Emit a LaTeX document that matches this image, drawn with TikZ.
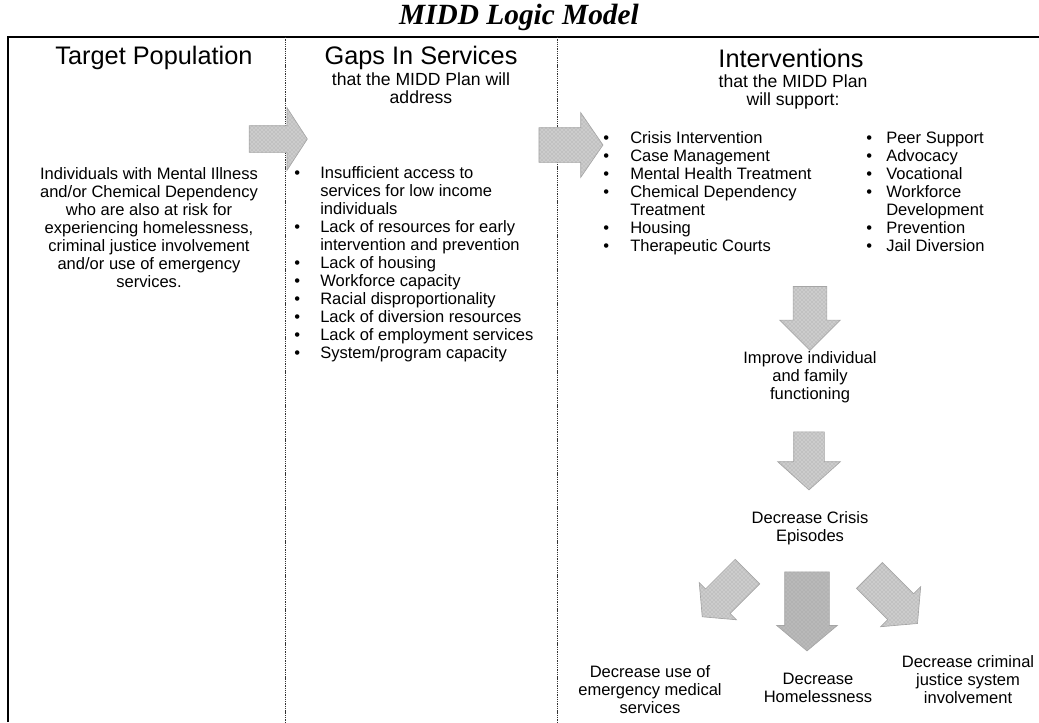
\documentclass[tikz,border=0pt]{standalone}
\usepackage{fontspec}
\setmainfont{Liberation Sans}
\newfontfamily\titlefont{Liberation Serif}
\usetikzlibrary{shapes.arrows,patterns}
\begin{document}
\begin{tikzpicture}[x=0.75pt,y=-0.75pt]
\newcommand{\bodyfont}{\fontsize{12.4}{13.5}\selectfont}
\newcommand{\headfont}{\fontsize{19}{20}\selectfont}
\newcommand{\subfont}{\fontsize{13.2}{13.5}\selectfont}
\newcommand{\arrowfill}{gray!40}
\newcommand{\arrowline}{gray!70}

\tikzset{every node/.style={inner sep=0pt},
  blockarrow/.style={single arrow, fill=\arrowfill, draw=\arrowline, line width=0.5pt,
    postaction={pattern=crosshatch dots, pattern color=gray!75}},
  divider/.style={line width=0.7pt, dash pattern=on 1pt off 0.7pt, black!80},
  listtext/.style={font=\bodyfont, anchor=north west},
  centertext/.style={font=\bodyfont, align=center, anchor=north}}
\useasboundingbox (0,0) rectangle (1039,722);

\node (title) at (519,17) {\titlefont\bfseries\itshape\fontsize{22}{26}\selectfont MIDD Logic Model};
\draw[line width=1.4pt] (8,722) -- (8,37) -- (1039,37);
\draw[divider] (285,37) -- (285,722);
\draw[divider] (557,37) -- (557,722);

% column heads
\node[font=\headfont] (target) at (154,58) {Target Population};
\node[font=\headfont] (gaps) at (421,58) {Gaps In Services};
\node[font=\subfont, align=center, anchor=north] (gapssub) at (421,72) {that the MIDD Plan will\\address};
\node[font=\headfont] (interv) at (791,58) {Interventions};
\node[font=\subfont, align=center, anchor=north] (intervsub) at (793,74) {that the MIDD Plan\\will support:};

% column texts
\node[centertext] (targettext) at (149,167) {Individuals with Mental Illness\\and/or Chemical Dependency\\who are also at risk for\\experiencing homelessness,\\criminal justice involvement\\and/or use of emergency\\services.};
\node[listtext] (gapslist) at (294,166) {\begin{tabular}{@{}p{19.5pt}@{}l@{}}
\textbullet & Insufficient access to\\
 & services for low income\\
 & individuals\\
\textbullet & Lack of resources for early\\
 & intervention and prevention\\
\textbullet & Lack of housing\\
\textbullet & Workforce capacity\\
\textbullet & Racial disproportionality\\
\textbullet & Lack of diversion resources\\
\textbullet & Lack of employment services\\
\textbullet & System/program capacity
\end{tabular}};
\node[listtext] (intervlista) at (603,131) {\begin{tabular}{@{}p{20.25pt}@{}l@{}}
\textbullet & Crisis Intervention\\
\textbullet & Case Management\\
\textbullet & Mental Health Treatment\\
\textbullet & Chemical Dependency\\
 & Treatment\\
\textbullet & Housing\\
\textbullet & Therapeutic Courts
\end{tabular}};
\node[listtext] (intervlistb) at (866,131) {\begin{tabular}{@{}p{15pt}@{}l@{}}
\textbullet & Peer Support\\
\textbullet & Advocacy\\
\textbullet & Vocational\\
\textbullet & Workforce\\
 & Development\\
\textbullet & Prevention\\
\textbullet & Jail Diversion
\end{tabular}};

% outcomes
\node[centertext] (improve) at (810,351) {Improve individual\\and family\\functioning};
\node[centertext] (crisis) at (810,511) {Decrease Crisis\\Episodes};
\node[centertext] (emerg) at (650,665) {Decrease use of\\emergency medical\\services};
\node[centertext] (homeless) at (818,673) {Decrease\\Homelessness};
\node[centertext] (justice) at (968,655) {Decrease criminal\\justice system\\involvement};

% block arrows
\node[blockarrow, minimum height=43.5pt, inner ysep=9.75pt, single arrow head extend=13.5pt, single arrow tip angle=114] (arrowa) at (274,139) {};
\node[blockarrow, minimum height=48pt, inner ysep=12.75pt, single arrow head extend=11.25pt, single arrow tip angle=111] (arrowb) at (565,145) {};
\node[blockarrow, rotate=-90, minimum height=48pt, inner ysep=12.4pt, single arrow head extend=10.1pt, single arrow tip angle=90] (arrowc) at (810,310) {};
\node[blockarrow, rotate=-90, minimum height=43.5pt, inner ysep=11.25pt, single arrow head extend=12pt, single arrow tip angle=96] (arrowd) at (809,454) {};
\node[blockarrow, fill=gray!55, rotate=-90, minimum height=59.25pt, inner ysep=16.5pt, single arrow head extend=6pt, single arrow tip angle=100] (arrowe) at (807,602) {};
\node[blockarrow, rotate=-135, minimum height=48pt, inner ysep=12.75pt, single arrow head extend=6.75pt, single arrow tip angle=100] (arrowf) at (730,589) {};
\node[blockarrow, rotate=-45, minimum height=51pt, inner ysep=13.5pt, single arrow head extend=7.5pt, single arrow tip angle=100] (arrowg) at (888,594) {};
\end{tikzpicture}
\end{document}
